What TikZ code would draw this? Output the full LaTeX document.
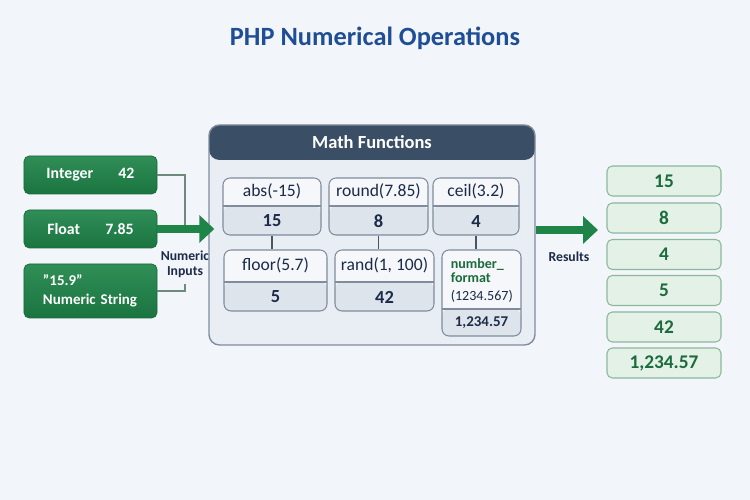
\documentclass[tikz,border=0pt]{standalone}
\usepackage{fontspec}
\setmainfont{Carlito}
\usetikzlibrary{arrows.meta,positioning,calc}
\definecolor{pagebg}{RGB}{242,245,250}
\definecolor{phpblue}{RGB}{31,78,150}
\definecolor{phpgreen}{RGB}{30,132,72}
\definecolor{phpnavy}{RGB}{27,43,72}
\definecolor{phpslate}{RGB}{58,79,102}
\definecolor{panelbg}{RGB}{233,238,244}
\definecolor{paneledge}{RGB}{128,140,155}
\definecolor{fntop}{RGB}{245,247,250}
\definecolor{fnbot}{RGB}{222,228,236}
\definecolor{resfill}{RGB}{228,241,231}
\definecolor{resedge}{RGB}{140,184,154}
\definecolor{resgreen}{RGB}{28,107,60}
\definecolor{linkgrey}{RGB}{110,138,122}
\definecolor{stemgrey}{RGB}{74,85,99}

\begin{document}
\begin{tikzpicture}[
    inbox/.style={rectangle, rounded corners=3pt, top color=phpgreen!92!white, bottom color=phpgreen!88!black,
                  draw=phpgreen!80!black, text=white, minimum width=2.66cm,
                  font=\fontsize{9}{11}\selectfont\bfseries},
    panel/.style={rectangle, rounded corners=6pt, draw=paneledge, fill=panelbg, line width=0.8pt,
                  minimum width=6.52cm, minimum height=4.4cm,
                  path picture={\fill[phpslate] (path picture bounding box.north west)
                      rectangle ([yshift=-0.7cm]path picture bounding box.north east);}},
    fnbox/.style={rectangle, rounded corners=4pt, draw=paneledge, fill=fntop, line width=0.6pt, inner sep=0pt,
                  path picture={\fill[fnbot] (path picture bounding box.south west)
                      rectangle ([yshift=#1]path picture bounding box.south east);
                    \draw[paneledge, line width=0.6pt] ([yshift=#1]path picture bounding box.south west)
                      -- ([yshift=#1]path picture bounding box.south east);}},
    fnlabel/.style={text=phpnavy, font=\fontsize{10}{12}\selectfont},
    fnvalue/.style={text=phpnavy, font=\fontsize{10.5}{12}\selectfont\bfseries},
    result/.style={rectangle, rounded corners=3pt, fill=resfill, draw=resedge, line width=0.6pt,
                   minimum width=2.28cm, minimum height=0.6cm, text=resgreen,
                   font=\fontsize{11}{13}\selectfont\bfseries},
    flow/.style={-{Triangle[length=0.3cm, width=0.54cm]}, line width=5pt, phpgreen},
    link/.style={linkgrey, line width=0.7pt},
    stem/.style={stemgrey, line width=0.7pt},
    tag/.style={text=phpnavy, font=\fontsize{7.8}{8.6}\selectfont\bfseries, align=center}
  ]
    \fill[pagebg] (0,0) rectangle (15,10);

    \node[font=\fontsize{15}{17}\selectfont\bfseries, text=phpblue] (title) at (7.5,9.24)
      {PHP Numerical Operations};

    % Inputs
    \node[inbox, minimum height=0.76cm] (int) at (1.81,6.5) {Integer\hspace{1.6em}42};
    \node[inbox, minimum height=0.76cm] (flt) at (1.81,5.42) {Float\hspace{1.6em}7.85};
    \node[inbox, minimum height=1.08cm, align=left, text width=1.9cm,
          font=\fontsize{8.5}{11}\selectfont\bfseries] (str) at (1.81,4.18)
      {\symbol{34}15.9\symbol{34}\\Numeric String};

    \node[tag] (inlbl) at (3.7,4.72) {Numeric\\Inputs};
    \coordinate (jn) at (3.7,5.42);
    \draw[link] (int.east) -| (jn);
    \draw[link] (str.east) -| (inlbl.south);

    % Math functions panel
    \node[panel] (panel) at (7.44,5.3) {};
    \node[font=\fontsize{10.5}{12}\selectfont\bfseries, text=white] (mfttl) at (7.44,7.16) {Math Functions};

    \draw[flow, shorten >=-0.12cm] (flt.east) -- (panel.west |- flt.east);

    \node[fnbox=0.58cm, minimum width=1.96cm, minimum height=1.14cm] (abs) at (5.44,5.87) {};
    \node[fnlabel] (absl) at ([yshift=-0.28cm]abs.north) {abs(-15)};
    \node[fnvalue] (absv) at ([yshift=0.29cm]abs.south) {15};

    \node[fnbox=0.58cm, minimum width=1.98cm, minimum height=1.14cm] (rnd) at (7.57,5.87) {};
    \node[fnlabel] (rndl) at ([yshift=-0.28cm]rnd.north) {round(7.85)};
    \node[fnvalue] (rndv) at ([yshift=0.29cm]rnd.south) {8};

    \node[fnbox=0.58cm, minimum width=1.72cm, minimum height=1.14cm] (ceil) at (9.52,5.87) {};
    \node[fnlabel] (ceill) at ([yshift=-0.28cm]ceil.north) {ceil(3.2)};
    \node[fnvalue] (ceilv) at ([yshift=0.29cm]ceil.south) {4};

    \node[fnbox=0.58cm, minimum width=2.06cm, minimum height=1.22cm] (flr) at (5.51,4.39) {};
    \node[fnlabel] (flrl) at ([yshift=-0.32cm]flr.north) {floor(5.7)};
    \node[fnvalue] (flrv) at ([yshift=0.29cm]flr.south) {5};

    \node[fnbox=0.58cm, minimum width=1.98cm, minimum height=1.22cm] (rand) at (7.69,4.39) {};
    \node[fnlabel] (randl) at ([yshift=-0.32cm]rand.north) {rand(1, 100)};
    \node[fnvalue] (randv) at ([yshift=0.29cm]rand.south) {42};

    \node[fnbox=0.54cm, minimum width=1.58cm, minimum height=1.72cm] (nf) at (9.63,4.14) {};
    \node[anchor=north west, inner sep=0pt, align=left, text=phpnavy,
          font=\fontsize{8}{8}\selectfont] (nfl) at ([xshift=0.18cm, yshift=-0.17cm]nf.north west)
      {\textcolor{resgreen}{\bfseries number\_}\\\textcolor{resgreen}{\bfseries format}\\[2.5pt](1234.567)};
    \node[fnvalue, font=\fontsize{8.5}{10}\selectfont\bfseries] (nfv) at ([yshift=0.27cm]nf.south) {1,234.57};

    \draw[stem] (abs.south) -- (abs.south |- flr.north);
    \draw[stem] (rnd.south) -- (rnd.south |- rand.north);
    \draw[stem] (ceil.south) -- (ceil.south |- nf.north);

    % Results
    \coordinate (rtip) at (11.96,5.4);
    \draw[flow] (panel.east |- rtip) -- (rtip);
    \node[tag] (reslbl) at (11.38,4.86) {Results};

    \node[result] (r1) at (13.28,6.38) {15};
    \node[result] (r2) at (13.28,5.64) {8};
    \node[result] (r3) at (13.28,4.91) {4};
    \node[result] (r4) at (13.28,4.19) {5};
    \node[result] (r5) at (13.28,3.46) {42};
    \node[result] (r6) at (13.28,2.74) {1,234.57};
  \end{tikzpicture}
\end{document}
